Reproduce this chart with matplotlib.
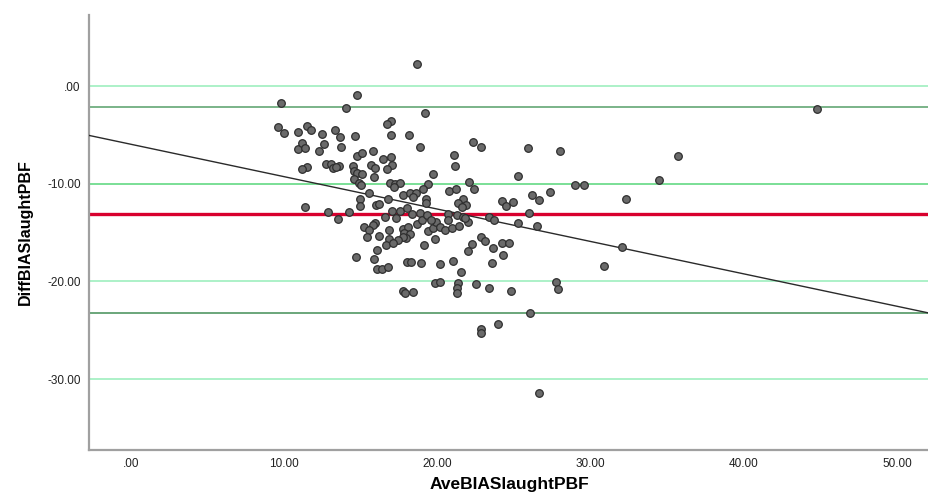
import matplotlib
matplotlib.use("Agg")
import matplotlib.pyplot as plt
import numpy as np

plt.rcParams["font.family"] = ["Liberation Sans", "DejaVu Sans"]

# average of the two methods (x) and their difference (y)
ave_pbf = [
    9.79, 9.61, 10.01, 10.88, 10.92, 18.65, 14.77, 14.01, 19.17, 16.95,
    16.73, 11.47, 11.75, 12.49, 13.30, 13.64, 14.60, 16.95, 18.13, 11.14,
    11.36, 12.60, 12.29, 13.73, 18.84, 22.34, 22.83, 25.89, 28.02, 14.73,
    15.08, 15.80, 16.99, 16.43, 21.10, 21.17, 12.73, 13.04, 13.20, 13.58,
    13.38, 14.51, 14.58, 14.73, 15.10, 15.69, 15.95, 17.02, 16.69, 15.86,
    14.56, 14.90, 14.99, 11.47, 11.14, 19.73, 25.24, 16.91, 17.23, 17.56,
    17.17, 19.41, 19.08, 22.06, 22.39, 20.78, 21.19, 28.98, 29.59, 15.55,
    17.77, 18.21, 18.60, 18.43, 16.78, 19.26, 19.26, 14.95, 14.95, 15.99,
    16.21, 21.67, 21.36, 21.85, 21.59, 26.17, 26.61, 27.33, 24.24, 24.48,
    24.92, 11.36, 12.86, 14.25, 13.51, 17.02, 17.56, 18.00, 18.32, 18.86,
    25.96, 23.35, 23.69, 20.71, 21.26, 21.69, 16.56, 17.32, 25.24, 26.50,
    15.95, 15.78, 15.21, 15.55, 15.42, 16.86, 16.17, 17.77, 18.08, 17.82,
    18.21, 17.95, 17.73, 17.45, 18.69, 18.98, 19.30, 19.39, 19.69, 19.91,
    19.58, 20.17, 20.50, 20.93, 21.41, 22.02, 19.82, 16.82, 16.64, 17.12,
    19.13, 22.85, 23.11, 22.28, 24.22, 24.69, 23.65, 16.04, 20.71, 21.80,
    14.69, 15.86, 16.08, 16.36, 16.80, 18.00, 18.26, 18.91, 20.17, 21.00,
    22.02, 21.54, 24.30, 23.58, 30.87, 17.77, 17.89, 18.43, 19.84, 20.17,
    21.34, 21.26, 21.26, 22.52, 23.35, 24.78, 27.72, 27.85, 26.04, 23.96,
    22.85, 22.85, 26.63, 44.80, 35.69, 34.45, 32.29, 32.03,
]
diff_pbf = [
    -1.71, -4.23, -4.84, -4.74, -6.42, 2.25, -0.92, -2.25, -2.73, -3.55,
    -3.89, -4.10, -4.54, -4.91, -4.47, -5.22, -5.12, -5.02, -5.02, -5.87,
    -6.38, -5.91, -6.66, -6.21, -6.21, -5.76, -6.25, -6.35, -6.66, -7.17,
    -6.89, -6.69, -7.27, -7.44, -7.06, -8.16, -8.02, -7.96, -8.36, -8.16,
    -8.26, -8.16, -8.70, -8.94, -9.01, -8.09, -8.36, -8.06, -8.53, -9.35,
    -9.49, -9.96, -10.17, -8.29, -8.53, -9.01, -9.21, -9.90, -10.00, -9.96,
    -10.31, -10.03, -10.55, -9.80, -10.52, -10.75, -10.55, -10.11, -10.11, -10.99,
    -11.16, -10.92, -10.99, -11.40, -11.54, -11.54, -11.98, -11.60, -12.29, -12.15,
    -12.05, -11.54, -11.98, -12.15, -12.42, -11.16, -11.70, -10.82, -11.81, -12.29,
    -11.91, -12.36, -12.93, -12.93, -13.62, -12.77, -12.83, -12.52, -13.14, -13.03,
    -12.97, -13.38, -13.72, -13.14, -13.21, -13.38, -13.41, -13.51, -14.00, -14.30,
    -14.00, -14.20, -14.47, -14.74, -15.43, -14.74, -15.36, -14.61, -14.47, -15.08,
    -15.18, -15.59, -15.49, -15.80, -14.13, -13.72, -13.21, -14.88, -14.51, -13.89,
    -13.72, -14.41, -14.74, -14.57, -14.33, -13.89, -15.66, -15.63, -16.28, -16.11,
    -16.28, -15.43, -15.90, -16.21, -16.04, -16.11, -16.62, -16.79, -13.72, -13.55,
    -17.48, -17.74, -18.74, -18.74, -18.50, -18.05, -18.05, -18.12, -18.19, -17.89,
    -16.89, -19.04, -17.30, -18.15, -18.40, -20.99, -21.22, -21.12, -20.17, -20.07,
    -20.20, -20.71, -21.22, -20.30, -20.65, -20.96, -20.10, -20.82, -23.24, -24.40,
    -24.88, -25.26, -31.46, -2.35, -7.17, -9.65, -11.54, -16.45,
]

mean_diff = -13.07
upper_loa = -2.18
lower_loa = -23.24
fit_intercept = -5.96
fit_slope = -0.3318

x_ticks = [0, 10, 20, 30, 40, 50]
x_tick_labels = [".00", "10.00", "20.00", "30.00", "40.00", "50.00"]
y_ticks = [0, -10, -20, -30]
y_tick_labels = [".00", "-10.00", "-20.00", "-30.00"]

fig = plt.figure(figsize=(9.29, 4.97), dpi=100)
ax = fig.add_axes([0.0958, 0.0946, 0.9042, 0.875])
xmin, xmax = -2.74, 52.09
ax.set_xlim(xmin, xmax)
ax.set_ylim(-37.27, 7.27)

# grid lines
for yv in y_ticks:
    col = "#70dc8e" if yv == -10 else "#a6f0c4"
    ax.axhline(yv, color=col, lw=1.3, zorder=1)

ax.axhline(upper_loa, color="#6fae7f", lw=1.3, zorder=2)
ax.axhline(lower_loa, color="#5f9f6f", lw=1.3, zorder=2)
ax.axhline(mean_diff, color="#d8002e", lw=2.4, zorder=2)

xs = np.array([xmin, xmax])
ax.plot(xs, fit_intercept + fit_slope * xs, color="#2a2a2a", lw=1.0, zorder=3)

ax.scatter(ave_pbf, diff_pbf, s=30, facecolor="#6a6a6a", edgecolor="#2e2e2e",
           linewidth=0.9, zorder=4)

ax.set_xticks(x_ticks)
ax.set_xticklabels(x_tick_labels)
ax.set_yticks(y_ticks)
ax.set_yticklabels(y_tick_labels)
ax.tick_params(axis="x", length=0, labelsize=8.5, pad=6, colors="#222222")
ax.tick_params(axis="y", length=0, labelsize=8.5, pad=6, colors="#222222")

for side in ["top", "right"]:
    ax.spines[side].set_visible(False)
for side in ["left", "bottom"]:
    ax.spines[side].set_color("#a0a0a0")
    ax.spines[side].set_linewidth(1.6)

ax.set_xlabel("AveBIASlaughtPBF", fontsize=12.5, fontweight="bold", labelpad=5)
ax.set_ylabel("DiffBIASlaughtPBF", fontsize=11.5, fontweight="bold", labelpad=10)

fig.savefig("out.png", dpi=100)
